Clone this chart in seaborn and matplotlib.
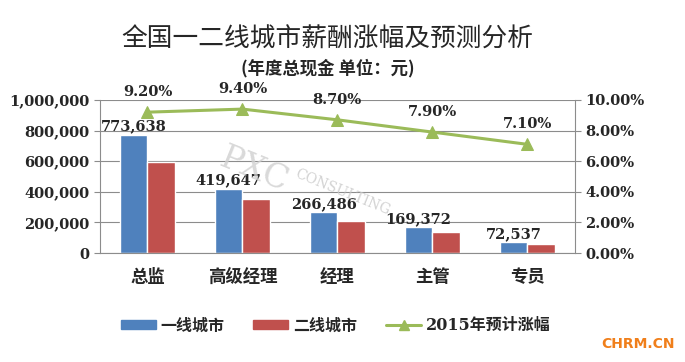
import numpy as np
import pandas as pd
import matplotlib.pyplot as plt
import seaborn as sns
from matplotlib.ticker import FuncFormatter, FixedLocator

categories = ["总监", "高级经理", "经理", "主管", "专员"]
tier1 = [773638, 419647, 266486, 169372, 72537]
tier2 = [594000, 354000, 207000, 135000, 61000]
growth = [9.20, 9.40, 8.70, 7.90, 7.10]
series_names = ["一线城市", "二线城市"]
line_name = "2015年预计涨幅"

df = pd.DataFrame({
    "职位": categories * 2,
    "薪酬": tier1 + tier2,
    "城市": [series_names[0]] * 5 + [series_names[1]] * 5,
})

sns.set_style("white")
plt.rcParams["font.family"] = ["DejaVu Serif", "Noto Sans CJK SC"]
plt.rcParams["font.weight"] = "bold"

fig = plt.figure(figsize=(6.85, 3.62), dpi=100)
ax = fig.add_axes([0.146, 0.301, 0.693, 0.423])

sns.barplot(data=df, x="职位", y="薪酬", hue="城市", palette=["#4F81BD", "#C0504D"],
            width=0.58, saturation=1, ax=ax, legend=False)
ax.set_ylim(0, 1000000)
ax.set_yticks(np.arange(0, 1000001, 200000))
ax.yaxis.set_major_formatter(FuncFormatter(lambda v, p: f"{int(v):,}"))
ax.grid(axis="y", color="#8c8c8c", lw=0.8)
ax.set_axisbelow(True)
ax.set_xlabel("")
ax.set_ylabel("")
ax.set_xlim(-0.5, 4.5)
ax.tick_params(axis="x", length=0, pad=11, labelsize=12.5)
for lbl in ax.get_xticklabels():
    lbl.set_family(["Noto Sans CJK SC"])
ax.xaxis.set_minor_locator(FixedLocator(np.arange(-0.5, 5, 1)))
ax.tick_params(axis="x", which="minor", length=5, color="#8c8c8c")
ax.tick_params(axis="y", length=4, color="#8c8c8c", labelsize=10.5, direction="out")
ax.yaxis.set_tick_params(left=True)
for s in ["left", "bottom"]:
    ax.spines[s].set_color("#8c8c8c")
ax.spines["top"].set_visible(False)
ax.spines["right"].set_visible(False)

bar_w = 0.29
for i, v in enumerate(tier1):
    ax.text(i - bar_w / 2, v + 8000, f"{v:,}", ha="center", va="bottom", fontsize=10.5)

ax2 = ax.twinx()
sns.lineplot(x=np.arange(len(growth)), y=growth, ax=ax2, color="#9BBB59", lw=2.2,
             marker="^", markersize=9, markeredgecolor="#9BBB59")
ax2.set_ylim(0, 10)
ax2.set_yticks(np.arange(0, 10.01, 2))
ax2.yaxis.set_major_formatter(FuncFormatter(lambda v, p: f"{v:.2f}%"))
ax2.tick_params(axis="y", length=4, color="#8c8c8c", labelsize=10.5, direction="out")
ax2.yaxis.set_tick_params(right=True)
ax2.spines["right"].set_color("#8c8c8c")
for s in ["top", "left", "bottom"]:
    ax2.spines[s].set_visible(False)
for i, g in enumerate(growth):
    ax2.text(i, g + 0.85, f"{g:.2f}%", ha="center", va="bottom", fontsize=10.5)

fig.text(0.478, 0.89, "全国一二线城市薪酬涨幅及预测分析", ha="center", va="center",
         fontsize=18.5, fontweight="normal", family=["Noto Sans CJK SC"])
fig.text(0.478, 0.812, "(年度总现金 单位：元)", ha="center", va="center",
         fontsize=12.5, fontweight="bold", family=["Noto Sans CJK SC"])

fig.text(0.37, 0.53, "PXC", rotation=-22, fontsize=24, color="#d0d0d0",
         ha="center", va="center", fontweight="normal", alpha=0.8)
fig.text(0.50, 0.47, "CONSULTING", rotation=-22, fontsize=10, color="#c8c8c8",
         ha="center", va="center", fontweight="normal", alpha=0.8)

handles = [
    plt.Rectangle((0, 0), 1, 1, color="#4F81BD"),
    plt.Rectangle((0, 0), 1, 1, color="#C0504D"),
    plt.Line2D([0], [0], color="#9BBB59", lw=2.2, marker="^", markersize=7),
]
fig.legend(handles, series_names + [line_name], loc="center", bbox_to_anchor=(0.49, 0.1),
           ncol=3, frameon=False, handlelength=2.2, handleheight=0.5,
           columnspacing=1.8, handletextpad=0.3,
           prop={"family": ["DejaVu Serif", "Noto Sans CJK SC"], "weight": "bold", "size": 11.5})

fig.text(0.985, 0.03, "CHRM.CN", ha="right", va="bottom", fontsize=10,
         color="#F07F1B", family=["DejaVu Sans"], fontweight="bold")

fig.savefig("out.png", dpi=100)
